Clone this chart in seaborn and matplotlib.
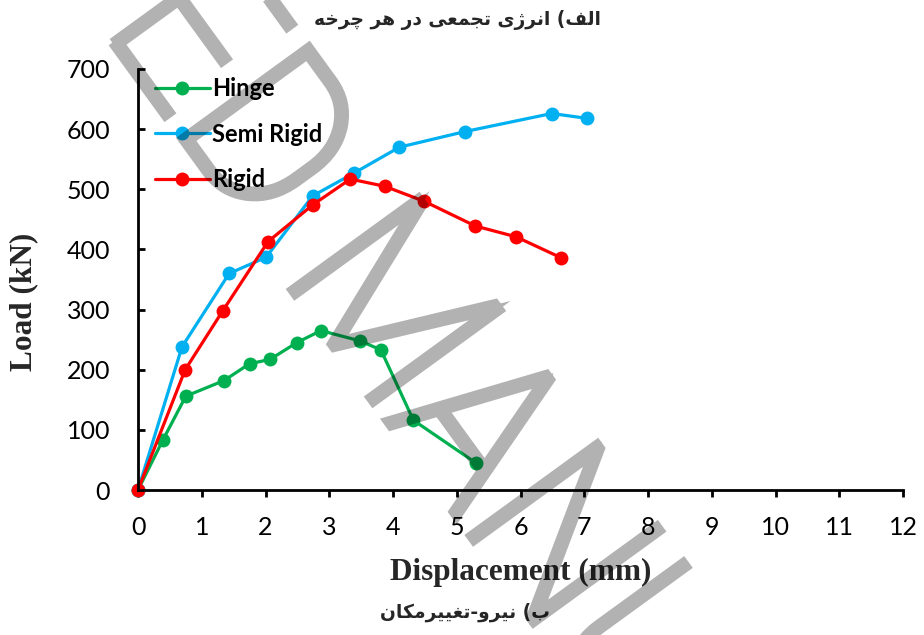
import matplotlib
matplotlib.use("Agg")
import matplotlib.pyplot as plt
import seaborn as sns
import pandas as pd
from matplotlib.textpath import TextPath
from matplotlib.font_manager import FontProperties
from matplotlib.patches import PathPatch
from matplotlib.transforms import Affine2D, IdentityTransform

# ---------------- data ----------------
hinge_x = [0, 0.39, 0.75, 1.35, 1.75, 2.07, 2.49, 2.87, 3.48, 3.81, 4.32, 5.30]
hinge_y = [0, 83, 156, 182, 210, 217, 245, 265, 248, 233, 116, 45]

semi_x = [0, 0.69, 1.43, 2.01, 2.74, 3.39, 4.10, 5.13, 6.49, 7.04]
semi_y = [0, 238, 360, 387, 489, 527, 570, 596, 626, 618]

rigid_x = [0, 0.74, 1.33, 2.04, 2.74, 3.33, 3.87, 4.49, 5.29, 5.93, 6.64]
rigid_y = [0, 200, 298, 413, 474, 517, 505, 480, 439, 421, 386]

series_names = ["Hinge", "Semi Rigid", "Rigid"]
series_colors = ["#00B050", "#00B0F0", "#FF0000"]

x_ticks = list(range(0, 13))
y_ticks = list(range(0, 701, 100))

# Persian captions (pre-shaped presentation forms, visual order)
title_top = ("\uFEEA\uFEA7\uFEAE\uFB7C \uFEAE\uFEEB \uFEAD\uFEA9 "
             "\uFBFD\uFECC\uFEE4\uFEA0\uFE97 \uFBFC\uFB8A\uFEAE\uFEE7\uFE8D "
             "(\uFED2\uFEDF\uFE8D")
title_bottom = ("\uFEE5\uFE8E\uFB91\uFEE3\uFEAE\uFBFF\uFBFF\uFED0\uFE97-"
                "\uFEED\uFEAE\uFBFF\uFEE7 (\uFE8F")
watermark = "ACCEPTED MANUSCRIPT"

# ---------------- frame ----------------
sns.set_theme(style="ticks")
plt.rcParams["font.family"] = ["Lato", "DejaVu Sans"]

W, H = 924, 635
fig = plt.figure(figsize=(W / 100, H / 100), dpi=100)
ax = fig.add_axes([138 / W, 1 - 490 / H, (903 - 138) / W, (490 - 69) / H])

frames = []
for name, xs, ys in zip(series_names, [hinge_x, semi_x, rigid_x], [hinge_y, semi_y, rigid_y]):
    frames.append(pd.DataFrame({"x": xs, "y": ys, "series": name}))
df = pd.concat(frames, ignore_index=True)

for name, col in zip(series_names, series_colors):
    sub = df[df["series"] == name]
    sns.lineplot(data=sub, x="x", y="y", ax=ax, color=col, linewidth=2.3,
                 marker="o", markersize=10, markeredgewidth=0,
                 estimator=None, sort=False, label=name, clip_on=False)

ax.set_xlim(0, 12)
ax.set_ylim(0, 700)
ax.set_xticks(x_ticks)
ax.set_yticks(y_ticks)
ax.set_xticklabels([str(v) for v in x_ticks])
ax.set_yticklabels([str(v) for v in y_ticks])

for s in ["top", "right"]:
    ax.spines[s].set_visible(False)
for s in ["left", "bottom"]:
    ax.spines[s].set_linewidth(2.0)
    ax.spines[s].set_color("black")

ax.tick_params(axis="x", direction="out", length=5, width=2, pad=14,
               labelsize=18, colors="black")
ax.tick_params(axis="y", direction="in", length=5, width=2, pad=20,
               labelsize=18, colors="black")

ax.set_xlabel("Displacement (mm)", fontfamily="Liberation Serif",
              fontweight="bold", fontsize=22.5, va="center")
ax.set_ylabel("Load (kN)", fontfamily="Liberation Serif",
              fontweight="bold", fontsize=22.5, va="center")
ax.xaxis.set_label_coords(0.5, (490 - 572) / 421)
ax.yaxis.set_label_coords((24 - 138) / 765, (490 - 302) / 421)

leg = ax.legend(loc="upper left", bbox_to_anchor=(0.0, 1.02), frameon=False,
                prop={"family": "Lato", "weight": "bold", "size": 17},
                handlelength=2.35, handletextpad=0.1, labelspacing=0.95,
                borderaxespad=0.3)
for t in leg.get_texts():
    t.set_color("black")

fig.text(457 / W, 1 - 20 / H, title_top, ha="center", va="center",
         fontsize=13.4, fontweight="bold", family=["DejaVu Sans"])
fig.text(465 / W, 1 - 612 / H, title_bottom, ha="center", va="center",
         fontsize=13.4, fontweight="bold", family=["DejaVu Sans"])

# ---------------- watermark ----------------
fp = FontProperties(family="Roboto", weight="light")
S = 220
full = TextPath((0, 0), watermark, size=S, prop=fp)
manu = TextPath((0, 0), "MANUSCRIPT", size=S, prop=fp)
fe = full.get_extents()
me = manu.get_extents()
m_left = fe.x1 - me.x1 + me.x0
tr = (Affine2D().translate(-m_left, 0).scale(0.95, 1.0)
      .rotate_deg(-54).translate(292, H - 290))
wm = PathPatch(tr.transform_path(full), facecolor="none",
               edgecolor=(0, 0, 0, 0.3), linewidth=6.5, joinstyle="miter",
               transform=IdentityTransform(), zorder=20)
fig.add_artist(wm)

fig.savefig("out.png", dpi=100)
